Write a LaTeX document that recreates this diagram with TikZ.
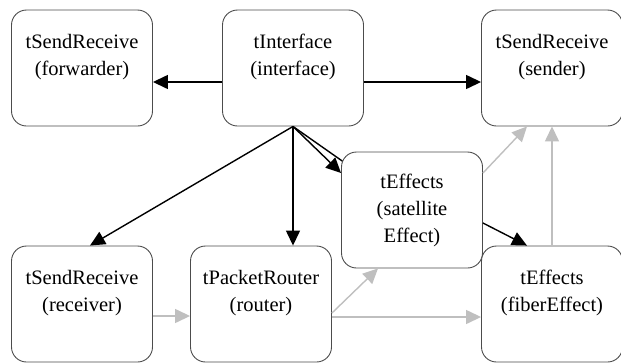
\documentclass[tikz,border=0pt]{standalone}
\usepackage{fontspec}
\setmainfont{Liberation Serif}
\usepackage{tikz}
\usetikzlibrary{arrows.meta}
\pgfdeclarelayer{background}
\pgfsetlayers{background,main}

\begin{document}
\begin{tikzpicture}
                [x=1pt,y=-1pt,
                block/.style={draw=black!70,line width=0.9pt,rounded corners=15pt,fill=white,
                  minimum width=141pt,minimum height=116pt,align=center,
                  font=\fontsize{20.5}{27}\selectfont},
                edge/.style={line width=1.4pt,-{Triangle[length=15pt,width=14pt]}},
                grayedge/.style={edge,draw=black!25,fill=black!25}
                ]
            \useasboundingbox (0,0) rectangle (621,362);
            \node[block] (forwarder) at (82,68) {tSendReceive\\(forwarder)\\\mbox{}};
            \node[block] (interface) at (293,68) {tInterface\\(interface)\\\mbox{}};
            \node[block] (sender) at (552,68) {tSendReceive\\(sender)\\\mbox{}};
            \node[block] (satellite) at (412,210) {tEffects\\(satellite\\Effect)};
            \node[block] (receiver) at (82,304) {tSendReceive\\(receiver)\\\mbox{}};
            \node[block] (router) at (261,304) {tPacketRouter\\(router)\\\mbox{}};
            \node[block] (fiber) at (552,304) {tEffects\\(fiberEffect)\\\mbox{}};
            \begin{pgfonlayer}{background}
            \draw[line width=1.4pt] (interface.south) -- (satellite.center);
            \end{pgfonlayer}
            \draw[edge] ([yshift=-14pt]interface.west) -- ([yshift=-14pt]forwarder.east);
            \draw[edge] ([yshift=-14pt]interface.east) -- ([yshift=-14pt]sender.west);
            \draw[edge] (interface.south) -- ([xshift=8pt]receiver.north);
            \draw[edge] (interface.south) -- ([xshift=32pt]router.north);
            \draw[edge] (interface.south) -- ([yshift=37pt]satellite.west);
            \draw[edge] ([yshift=-13pt]satellite.east) -- ([xshift=-25pt]fiber.north);
            \draw[grayedge] ([yshift=37pt]satellite.east) -- ([xshift=-25pt]sender.south);
            \draw[grayedge] (fiber.north) -- (sender.south);
            \draw[grayedge] ([yshift=-12pt]receiver.east) -- ([yshift=-12pt]router.west);
            \draw[grayedge] ([yshift=-9pt]router.east) -- ([xshift=-34pt]satellite.south);
            \draw[grayedge] ([yshift=-13pt]router.east) -- ([yshift=-13pt]fiber.west);
            \end{tikzpicture}
\end{document}
